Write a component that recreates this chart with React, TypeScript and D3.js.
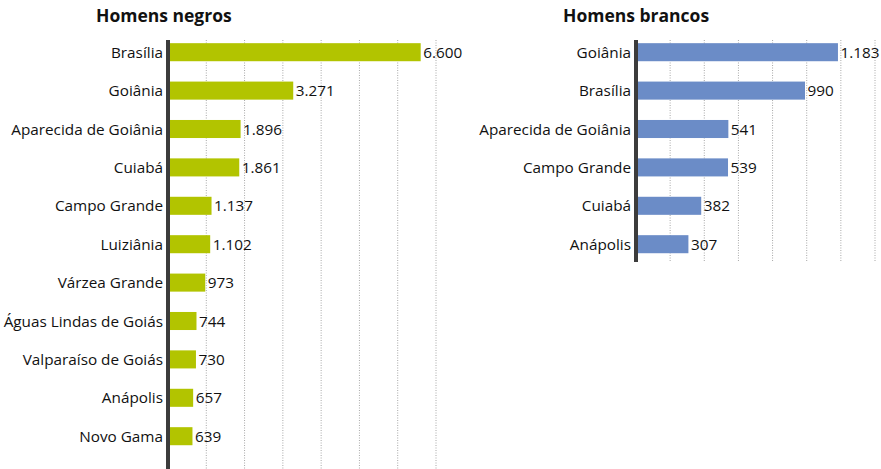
import * as React from "react";
import * as d3 from "d3";

// Data
const negrosCities = [
  "Brasília",
  "Goiânia",
  "Aparecida de Goiânia",
  "Cuiabá",
  "Campo Grande",
  "Luiziânia",
  "Várzea Grande",
  "Águas Lindas de Goiás",
  "Valparaíso de Goiás",
  "Anápolis",
  "Novo Gama",
];
const negrosValues = [6600, 3271, 1896, 1861, 1137, 1102, 973, 744, 730, 657, 639];
const negrosTicks = [1000, 2000, 3000, 4000, 5000, 6000, 7000];

const brancosCities = [
  "Goiânia",
  "Brasília",
  "Aparecida de Goiânia",
  "Campo Grande",
  "Cuiabá",
  "Anápolis",
];
const brancosValues = [1183, 990, 541, 539, 382, 307];
const brancosTicks = [200, 400, 600, 800, 1000, 1200, 1400];

const WIDTH = 881;
const HEIGHT = 469;
const FONT = "'Open Sans', sans-serif";

const ptBR = d3.formatLocale({
  decimal: ",",
  thousands: ".",
  grouping: [3],
  currency: ["R$", ""],
});
const fmt = ptBR.format(",d");

type Row = { city: string; value: number };

function Panel({
  title,
  titleX,
  cities,
  values,
  ticks,
  maxValue,
  x0,
  x1,
  gridBottom,
  color,
}: {
  title: string;
  titleX: number;
  cities: string[];
  values: number[];
  ticks: number[];
  maxValue: number;
  x0: number;
  x1: number;
  gridBottom: number;
  color: string;
}) {
  const rows: Row[] = cities.map((city, i) => ({ city, value: values[i] }));
  const step = 38.4;
  const top = 33;

  const xScale = d3.scaleLinear().domain([0, maxValue]).range([x0, x1]);
  const yScale = d3
    .scaleBand<string>()
    .domain(cities)
    .range([top, top + step * cities.length])
    .paddingInner(0.53)
    .paddingOuter(0.265);

  return (
    <g fontFamily={FONT}>
      <text x={titleX} y={22} fontSize={17.5} fontWeight="bold" fill="#111">
        {title}
      </text>
      {/* grid */}
      {ticks.map((t) => (
        <line
          key={t}
          x1={xScale(t)}
          x2={xScale(t)}
          y1={40}
          y2={gridBottom}
          stroke="#a8a8a8"
          strokeWidth={1}
          strokeDasharray="1 1.5"
        />
      ))}
      {/* bars */}
      {rows.map((d) => (
        <rect
          key={d.city}
          x={xScale(0)}
          y={yScale(d.city)}
          width={xScale(d.value) - xScale(0)}
          height={yScale.bandwidth()}
          fill={color}
        />
      ))}
      {/* value labels */}
      {rows.map((d) => (
        <text
          key={d.city}
          x={xScale(d.value) + 2.5}
          y={(yScale(d.city) ?? 0) + yScale.bandwidth() / 2}
          dy="0.36em"
          fontSize={15.3}
          fill="#111"
        >
          {fmt(d.value)}
        </text>
      ))}
      {/* category labels */}
      {rows.map((d) => (
        <text
          key={d.city}
          x={x0 - 5}
          y={(yScale(d.city) ?? 0) + yScale.bandwidth() / 2}
          dy="0.36em"
          fontSize={15.3}
          textAnchor="end"
          fill="#111"
        >
          {d.city}
        </text>
      ))}
      {/* axis line */}
      <line
        x1={x0}
        x2={x0}
        y1={40}
        y2={gridBottom}
        stroke="#3c3c3c"
        strokeWidth={4}
      />
    </g>
  );
}

export default function App() {
  return (
    <svg
      width={WIDTH}
      height={HEIGHT}
      style={{ position: "absolute", left: 0, top: 0, background: "#fff" }}
    >
      <Panel
        title="Homens negros"
        titleX={96}
        cities={negrosCities}
        values={negrosValues}
        ticks={negrosTicks}
        maxValue={7000}
        x0={168}
        x1={436}
        gridBottom={469}
        color="#b2c400"
      />
      <Panel
        title="Homens brancos"
        titleX={563}
        cities={brancosCities}
        values={brancosValues}
        ticks={brancosTicks}
        maxValue={1400}
        x0={636}
        x1={875}
        gridBottom={262}
        color="#6b8cc7"
      />
    </svg>
  );
}
